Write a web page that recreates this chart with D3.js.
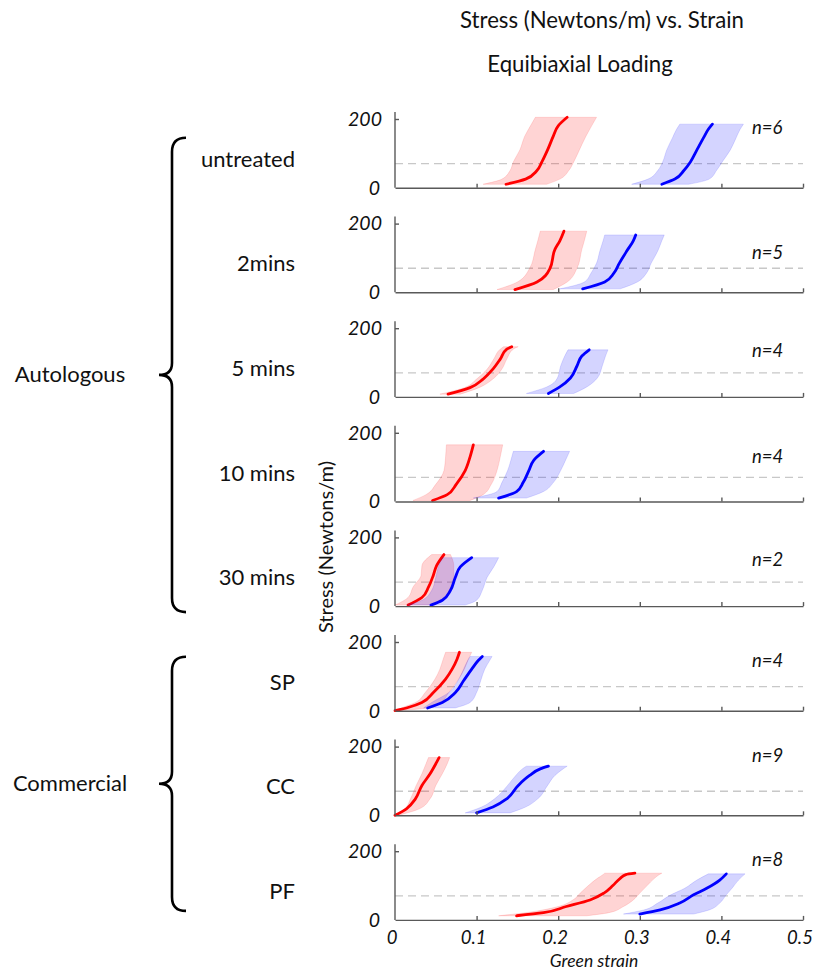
<!DOCTYPE html>
<html>
<head>
<meta charset="utf-8">
<script src="https://cdn.jsdelivr.net/npm/d3@7"></script>
<style>
  body { margin: 0; background: #fff; }
  svg { display: block; font-family: Lato, "Open Sans", sans-serif; }
</style>
</head>
<body>
<svg id="chart" width="814" height="971"></svg>
<script>
// panels, top to bottom
const treatments = ["untreated", "2mins", "5 mins", "10 mins", "30 mins", "SP", "CC", "PF"];
const nLabels = ["n=6", "n=5", "n=4", "n=4", "n=2", "n=4", "n=9", "n=8"];
const groups = ["Autologous", "Commercial"];
const groupPanels = [[0, 4], [5, 7]];
const xTicks = [0, 0.1, 0.2, 0.3, 0.4, 0.5];
const yTicks = [0, 200];
const refStress = 70;

// red series: stress levels (N/m) and strain mean / lower / upper
const redStress = [
    [10, 25, 50, 75, 110, 150, 180, 205],
    [8, 30, 70, 125, 150, 178],
    [8, 27, 52, 81, 110, 139, 146],
    [3, 20, 50, 90, 130, 165],
    [3, 25, 55, 90, 118, 150],
    [0, 10, 24, 53, 92, 121, 150, 170],
    [0, 19, 48, 87, 121, 150, 168],
    [12, 21, 39, 58, 78, 100, 121, 132, 136]
];
const redMean = [
    [0.136, 0.160, 0.174, 0.180, 0.187, 0.194, 0.200, 0.211],
    [0.147, 0.174, 0.190, 0.196, 0.202, 0.207],
    [0.065, 0.092, 0.108, 0.120, 0.129, 0.137, 0.143],
    [0.046, 0.064, 0.075, 0.086, 0.092, 0.096],
    [0.016, 0.033, 0.041, 0.047, 0.051, 0.060],
    [0.000, 0.017, 0.033, 0.047, 0.062, 0.070, 0.076, 0.079],
    [0.000, 0.014, 0.025, 0.033, 0.043, 0.050, 0.054],
    [0.149, 0.182, 0.210, 0.239, 0.256, 0.267, 0.276, 0.283, 0.294]
];
const redLow = [
    [0.108, 0.131, 0.141, 0.145, 0.153, 0.159, 0.166, 0.172],
    [0.125, 0.150, 0.165, 0.172, 0.175, 0.178],
    [0.055, 0.085, 0.100, 0.113, 0.121, 0.129, 0.133],
    [0.022, 0.038, 0.050, 0.060, 0.062, 0.063],
    [0.000, 0.016, 0.022, 0.032, 0.033, 0.045],
    [0.000, 0.010, 0.025, 0.037, 0.049, 0.055, 0.059, 0.062],
    [0.000, 0.012, 0.019, 0.026, 0.033, 0.038, 0.041],
    [0.127, 0.160, 0.200, 0.218, 0.227, 0.237, 0.248, 0.255, 0.257]
];
const redHigh = [
    [0.186, 0.202, 0.213, 0.219, 0.226, 0.234, 0.241, 0.247],
    [0.194, 0.211, 0.223, 0.229, 0.232, 0.235],
    [0.080, 0.103, 0.120, 0.131, 0.137, 0.145, 0.151],
    [0.092, 0.108, 0.118, 0.125, 0.129, 0.132],
    [0.045, 0.062, 0.068, 0.072, 0.072, 0.068],
    [0.005, 0.045, 0.056, 0.066, 0.078, 0.085, 0.090, 0.094],
    [0.004, 0.030, 0.043, 0.050, 0.058, 0.064, 0.067],
    [0.235, 0.262, 0.280, 0.292, 0.300, 0.309, 0.318, 0.324, 0.327]
];

// blue series
const blueStress = [
    [10, 25, 50, 75, 110, 145, 170, 185],
    [10, 30, 55, 85, 120, 150, 167],
    [10, 29, 55, 90, 119, 137],
    [10, 29, 55, 90, 120, 146],
    [3, 17, 46, 84, 114, 141],
    [8, 24, 53, 87, 121, 146, 158],
    [7, 24, 48, 87, 116, 135, 143],
    [17, 29, 49, 73, 92, 116, 134]
];
const blueMean = [
    [0.327, 0.343, 0.354, 0.362, 0.370, 0.378, 0.384, 0.389],
    [0.230, 0.257, 0.268, 0.275, 0.284, 0.292, 0.295],
    [0.188, 0.202, 0.215, 0.223, 0.229, 0.238],
    [0.127, 0.149, 0.157, 0.164, 0.170, 0.182],
    [0.044, 0.058, 0.068, 0.074, 0.080, 0.094],
    [0.040, 0.058, 0.074, 0.084, 0.094, 0.102, 0.107],
    [0.100, 0.120, 0.137, 0.151, 0.165, 0.178, 0.188],
    [0.300, 0.325, 0.349, 0.366, 0.382, 0.398, 0.406]
];
const blueLow = [
    [0.290, 0.310, 0.322, 0.328, 0.333, 0.340, 0.345, 0.349],
    [0.202, 0.232, 0.240, 0.247, 0.251, 0.255, 0.257],
    [0.161, 0.186, 0.199, 0.203, 0.208, 0.212],
    [0.096, 0.125, 0.131, 0.138, 0.142, 0.145],
    [0.015, 0.033, 0.045, 0.050, 0.053, 0.058],
    [0.035, 0.045, 0.066, 0.077, 0.084, 0.089, 0.092],
    [0.086, 0.106, 0.122, 0.138, 0.148, 0.156, 0.161],
    [0.280, 0.305, 0.322, 0.338, 0.355, 0.370, 0.384]
];
const blueHigh = [
    [0.360, 0.385, 0.394, 0.401, 0.411, 0.418, 0.423, 0.427],
    [0.276, 0.297, 0.308, 0.314, 0.322, 0.327, 0.330],
    [0.219, 0.235, 0.248, 0.254, 0.258, 0.261],
    [0.161, 0.182, 0.194, 0.203, 0.209, 0.214],
    [0.086, 0.100, 0.107, 0.113, 0.121, 0.127],
    [0.074, 0.092, 0.100, 0.105, 0.110, 0.116, 0.119],
    [0.141, 0.160, 0.175, 0.187, 0.196, 0.206, 0.211],
    [0.366, 0.385, 0.398, 0.406, 0.413, 0.421, 0.429]
];

// layout
const firstBase = 187.7, panelStep = 104.6, panelHeight = 68.7;
const nLabelStress = [175, 116, 134, 131, 137, 146, 175, 175];
const braceTopOffset = [-50, -54], braceBottomOffset = [6, -9];
const axisColor = "#595959";
const textColor = "#111";

const svg = d3.select("#chart");
const x = d3.scaleLinear().domain([0, 0.5]).range([395, 803]);

function toPoints(stress, mean, low, high) {
    return stress.map((s, i) => ({stress: s, mean: mean[i], low: low[i], high: high[i]}));
}

function baseOf(i) {
    return firstBase + i * panelStep;
}

// title
svg.append("text").attr("x", 602).attr("y", 28).attr("text-anchor", "middle")
    .attr("font-size", 22.2).attr("fill", textColor).text("Stress (Newtons/m) vs. Strain");
svg.append("text").attr("x", 580).attr("y", 72).attr("text-anchor", "middle")
    .attr("font-size", 22.2).attr("fill", textColor).text("Equibiaxial Loading");

treatments.forEach((name, i) => {
    const base = baseOf(i);
    const y = d3.scaleLinear().domain([0, 200]).range([base, base - panelHeight]);
    const g = svg.append("g").attr("class", "panel");

    // dashed reference
    g.append("line")
        .attr("x1", x(0)).attr("x2", x(0.5))
        .attr("y1", y(refStress)).attr("y2", y(refStress))
        .attr("stroke", "#c8c8c8").attr("stroke-width", 1.3)
        .attr("stroke-dasharray", "8,5");

    const area = d3.area()
        .x0(d => x(d.low)).x1(d => x(d.high)).y(d => y(d.stress))
        .curve(d3.curveMonotoneY);
    const line = d3.line()
        .x(d => x(d.mean)).y(d => y(d.stress))
        .curve(d3.curveMonotoneY);

    const series = [
        {pts: toPoints(redStress[i], redMean[i], redLow[i], redHigh[i]), color: "#ff0000"},
        {pts: toPoints(blueStress[i], blueMean[i], blueLow[i], blueHigh[i]), color: "#0000ff"}
    ];
    series.forEach(s => {
        g.append("path").datum(s.pts).attr("d", area)
            .attr("fill", s.color).attr("fill-opacity", 0.17)
            .attr("stroke", s.color).attr("stroke-opacity", 0.12).attr("stroke-width", 1);
        g.append("path").datum(s.pts).attr("d", line)
            .attr("fill", "none").attr("stroke", s.color)
            .attr("stroke-width", 2.8).attr("stroke-linecap", "round").attr("stroke-linejoin", "round");
    });

    // axes
    const xAxis = g.append("g").attr("transform", `translate(0,${base})`)
        .call(d3.axisTop(x).tickValues(xTicks.slice(1)).tickSize(4).tickFormat("").tickSizeOuter(0));
    const yAxis = g.append("g").attr("transform", `translate(${x(0)},0)`)
        .call(d3.axisRight(y).tickValues([200]).tickSize(4).tickFormat("").tickSizeOuter(0));
    [xAxis, yAxis].forEach(a => {
        a.selectAll("path, line").attr("stroke", axisColor).attr("stroke-width", 1.4);
    });
    yAxis.select(".domain").attr("d", `M0,${base}V${y(200) - 7}`);

    // y tick labels
    yTicks.forEach(t => {
        g.append("text").attr("x", t === 0 ? 380 : 382).attr("y", y(t)).attr("dy", "0.35em")
            .attr("text-anchor", "end").attr("font-size", 19.5).attr("font-style", "italic")
            .attr("fill", textColor).text(t);
    });

    g.append("text").attr("x", 752).attr("y", y(nLabelStress[i])).attr("dy", "0.35em")
        .attr("font-size", 18.5).attr("font-style", "italic").attr("fill", textColor).text(nLabels[i]);

    g.append("text").attr("x", 295).attr("y", base - 21).attr("text-anchor", "end")
        .attr("font-size", 22).attr("fill", textColor).text(name);

    if (i === treatments.length - 1) {
        xTicks.forEach(t => {
            g.append("text").attr("x", x(t) - 3).attr("y", base + 24).attr("text-anchor", "middle")
                .attr("font-size", 18.5).attr("font-style", "italic").attr("fill", textColor).text(t);
        });
        g.append("text").attr("x", 594).attr("y", base + 47).attr("text-anchor", "middle")
            .attr("font-size", 17.5).attr("font-style", "italic").attr("fill", textColor).text("Green strain");
    }
});

// shared y label
svg.append("text").attr("transform", "translate(333,547) rotate(-90)").attr("text-anchor", "middle")
    .attr("font-size", 20).attr("fill", textColor).text("Stress (Newtons/m)");

// group braces
groups.forEach((name, gi) => {
    const [a, b] = groupPanels[gi];
    const top = baseOf(a) + braceTopOffset[gi];
    const bottom = baseOf(b) + braceBottomOffset[gi];
    const mid = (top + bottom) / 2;
    const sx = 172, ex = 186, tx = 159;
    svg.append("path")
        .attr("d", `M${ex},${top} Q${sx},${top} ${sx},${top + 14} L${sx},${mid - 12} Q${sx},${mid} ${tx},${mid}`
            + ` Q${sx},${mid} ${sx},${mid + 12} L${sx},${bottom - 14} Q${sx},${bottom} ${ex},${bottom}`)
        .attr("fill", "none").attr("stroke", "#000").attr("stroke-width", 2.6);
    svg.append("text").attr("x", 70).attr("y", mid + 7).attr("text-anchor", "middle")
        .attr("font-size", 22).attr("fill", textColor).text(name);
});
</script>
</body>
</html>
